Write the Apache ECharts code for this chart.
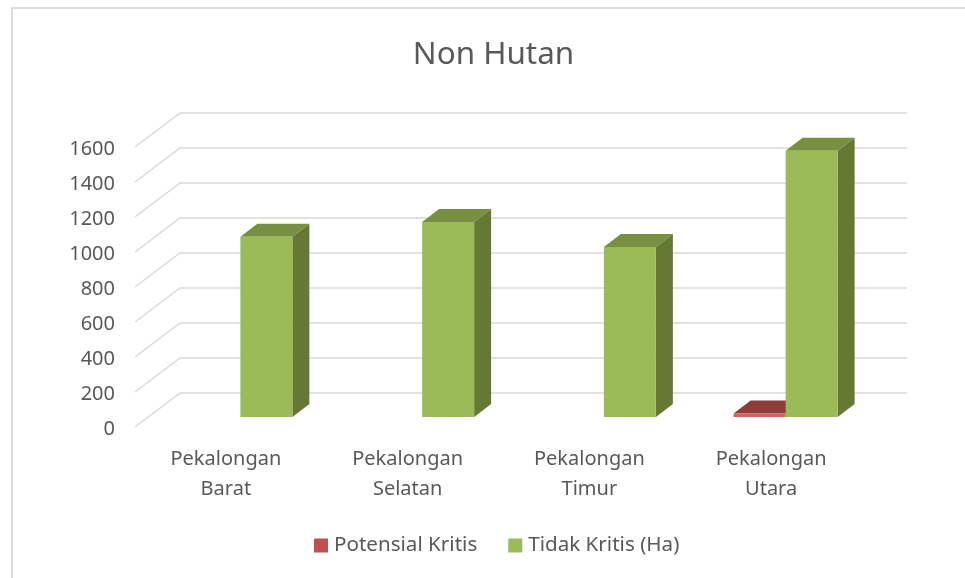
<!DOCTYPE html>
<html>
<head>
<meta charset="utf-8">
<style>html,body{margin:0;padding:0;background:#fff}#c{width:965px;height:578px}</style>
<script src="https://cdn.jsdelivr.net/npm/echarts@6/dist/echarts.min.js"></script>
</head>
<body>
<div id="c"></div>
<script>
const categories = ['Pekalongan Barat', 'Pekalongan Selatan', 'Pekalongan Timur', 'Pekalongan Utara'];
const potensialKritis = [0, 0, 0, 20];
const tidakKritis = [1030, 1114, 971, 1522];
const yTicks = [0, 200, 400, 600, 800, 1000, 1200, 1400, 1600];

const FONT = '"Noto Sans"';
const TEXT = '#595959';
const WALL_DX = 45, WALL_DY = 34;
const BAR_W = 52, BAR_DX = 17, BAR_DY = 13, BAR_SHIFT_X = 14.5, BAR_SHIFT_Y = 10;

function renderGrid(params, api) {
  const y = api.coord([0, api.value(0)])[1];
  const cs = params.coordSys;
  return {
    type: 'polyline',
    shape: { points: [[cs.x, y], [cs.x + WALL_DX, y - WALL_DY], [cs.x + cs.width + WALL_DX, y - WALL_DY]] },
    style: { fill: null, stroke: '#D9D9D9', lineWidth: 1.5 },
    silent: true
  };
}

function barRenderer(side, front, top, right) {
  return function (params, api) {
    const val = api.value(1);
    if (!val) return null;
    const c = api.coord([api.value(0), val]);
    const b = api.coord([api.value(0), 0]);
    const x0 = c[0] + BAR_SHIFT_X + (side < 0 ? -BAR_W : 0);
    const x1 = x0 + BAR_W;
    const yT = c[1] - BAR_SHIFT_Y;
    const yB = b[1] - BAR_SHIFT_Y;
    const poly = (pts, fill) => ({ type: 'polygon', shape: { points: pts }, style: { fill: fill, stroke: null } });
    return {
      type: 'group',
      children: [
        poly([[x1, yT], [x1 + BAR_DX, yT - BAR_DY], [x1 + BAR_DX, yB - BAR_DY], [x1, yB]], right),
        poly([[x0, yT], [x0 + BAR_DX, yT - BAR_DY], [x1 + BAR_DX, yT - BAR_DY], [x1, yT]], top),
        poly([[x0, yT], [x1, yT], [x1, yB], [x0, yB]], front)
      ]
    };
  };
}

const chart = echarts.init(document.getElementById('c'), null, { renderer: 'canvas' });
chart.setOption({
  animation: false,
  backgroundColor: '#fff',
  title: {
    text: 'Non Hutan',
    left: 488.5, top: 35, textAlign: 'center',
    textStyle: { fontFamily: FONT, fontSize: 31.4, fontWeight: 'normal', color: TEXT }
  },
  legend: {
    left: 309, top: 530,
    itemWidth: 14, itemHeight: 14, itemGap: 31,
    icon: 'rect',
    data: ['Potensial Kritis', 'Tidak Kritis (Ha)'],
    textStyle: { fontFamily: FONT, fontSize: 20.6, color: TEXT, padding: [0, 0, 0, 1] }
  },
  grid: { left: 135, top: 147, width: 727, height: 280, containLabel: false },
  xAxis: {
    type: 'category',
    data: categories,
    axisLine: { show: false },
    axisTick: { show: false },
    axisLabel: {
      fontFamily: FONT, fontSize: 20, color: TEXT, lineHeight: 30, margin: 17,
      formatter: v => v.replace(' ', '\n')
    }
  },
  yAxis: {
    type: 'value',
    min: 0, max: 1600, interval: 200,
    axisLine: { show: false },
    axisTick: { show: false },
    splitLine: { show: false },
    axisLabel: { fontFamily: FONT, fontSize: 20, color: TEXT, margin: 20, verticalAlign: 'top', lineHeight: 4, formatter: v => String(v) }
  },
  graphic: [{
    type: 'polyline', silent: true, z: -1,
    shape: { points: [[12, 578], [12, 8], [965, 8]] },
    style: { fill: null, stroke: '#DCDCDC', lineWidth: 2 }
  }],
  series: [
    {
      type: 'custom', name: '__grid', silent: true, z: 1,
      data: yTicks.map(v => [v]),
      encode: { y: 0 },
      renderItem: renderGrid,
      tooltip: { show: false }
    },
    {
      type: 'custom', name: 'Potensial Kritis', z: 2,
      itemStyle: { color: '#C0504D' },
      data: potensialKritis.map((v, i) => [i, v]),
      encode: { x: 0, y: 1 },
      renderItem: barRenderer(-1, '#CF6460', '#8E3B39', '#6F2E2C')
    },
    {
      type: 'custom', name: 'Tidak Kritis (Ha)', z: 3,
      itemStyle: { color: '#9BBB59' },
      data: tidakKritis.map((v, i) => [i, v]),
      encode: { x: 0, y: 1 },
      renderItem: barRenderer(1, '#9BBB59', '#778F40', '#657834')
    }
  ]
});
</script>
</body>
</html>
